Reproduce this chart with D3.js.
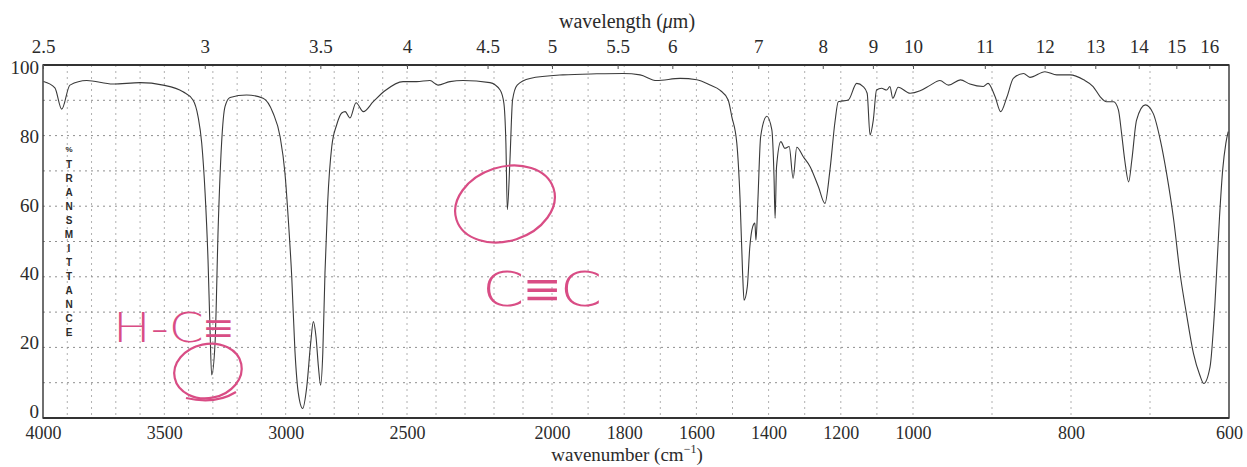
<!DOCTYPE html>
<meta charset="UTF-8">
<style>
body { margin: 0; background: #fff; }
svg text { font-family: "Liberation Serif", "Times New Roman", serif; fill: #2b2b2b; }
.grid line { stroke: #8f8f8f; stroke-dasharray: 2,4; stroke-width: 1; }
.grid line.v { stroke: #b0b0b0; }
.frame { fill: none; stroke: #333; stroke-width: 1.4; }
.spectrum { fill: none; stroke: #3a3a3a; stroke-width: 1.1; }
.ink { fill: none; stroke: #d94d85; stroke-width: 2.2; }
</style>
<body>
<div class="chart"></div>
<script src="https://d3js.org/d3.v7.min.js"></script>
<script>
// spectrum (cm-1, %T)
var wavenumbers = [
  3998, 3951, 3923, 3889, 3820, 3712, 3600, 3505, 3423, 3382,
  3361, 3346, 3332, 3320, 3312, 3305, 3291, 3278, 3264, 3250,
  3229, 3161, 3093, 3052, 3023, 3003, 2989, 2975, 2962, 2948,
  2930, 2913, 2897, 2886, 2875, 2865, 2856, 2847, 2838, 2827,
  2810, 2790, 2769, 2755, 2735, 2710, 2680, 2639, 2591, 2516,
  2467, 2421, 2393, 2352, 2307, 2214, 2179, 2166, 2159, 2154,
  2145, 2136, 2120, 2076, 1970, 1876, 1803, 1756, 1710, 1645,
  1599, 1562, 1535, 1512, 1502, 1488, 1479, 1472, 1468, 1459,
  1452, 1444, 1438, 1435, 1430, 1422, 1405, 1391, 1385, 1382,
  1378, 1366, 1355, 1343, 1332, 1322, 1304, 1285, 1262, 1244,
  1230, 1216, 1207, 1179, 1156, 1138, 1127, 1119, 1110, 1101,
  1087, 1073, 1064, 1056, 1041, 1008, 991, 978, 966, 955,
  940, 928, 911, 905, 896, 889, 881, 873, 860, 852,
  833, 818, 801, 784, 772, 763, 755, 746, 740, 736,
  732, 727, 723, 717, 706, 696, 687, 679, 670, 662,
  654, 645, 637, 632, 624, 618, 612, 608, 604, 601
];
var transmittance = [
  95.3, 93.5, 87.5, 94.3, 95.6, 94.6, 95.0, 94.3, 92.4, 90.1,
  85.4, 77.9, 63.7, 44.8, 25.8, 12.2, 21.2, 54.2, 77.9, 88.2,
  90.8, 91.5, 90.6, 86.4, 79.7, 69.4, 56.1, 40.0, 19.3, 7.1,
  2.7, 8.9, 21.2, 27.3, 23.0, 14.5, 9.3, 18.4, 41.1, 60.9,
  76.9, 83.0, 86.4, 86.8, 85.0, 89.3, 86.8, 89.6, 92.7, 95.3,
  95.3, 95.6, 94.3, 95.3, 95.6, 95.0, 92.9, 89.2, 77.9, 59.0,
  73.1, 90.1, 94.3, 96.2, 97.2, 97.5, 97.6, 97.2, 95.6, 96.2,
  95.8, 94.3, 92.9, 90.1, 85.4, 77.8, 61.8, 41.0, 33.4, 37.2,
  48.5, 54.2, 55.2, 50.4, 60.8, 79.7, 85.5, 81.6, 68.4, 56.6,
  71.2, 78.3, 76.4, 76.9, 67.9, 76.7, 74.0, 71.2, 65.5, 60.8,
  70.3, 84.0, 89.6, 90.1, 94.8, 93.9, 92.0, 80.2, 84.4, 92.9,
  93.4, 92.9, 93.9, 90.6, 93.7, 92.0, 92.7, 94.3, 95.6, 94.3,
  95.8, 94.6, 93.9, 94.8, 91.0, 86.8, 91.0, 96.2, 97.6, 96.5,
  98.1, 97.2, 97.2, 95.8, 93.9, 91.0, 89.6, 89.6, 87.3, 80.7,
  73.1, 66.9, 73.1, 84.4, 88.7, 86.3, 78.8, 69.3, 56.1, 41.0,
  29.7, 18.3, 12.2, 9.8, 14.5, 31.5, 57.0, 70.3, 77.8, 81.1
];
var wnTicks = [4000, 3500, 3000, 2500, 2000, 1800, 1600, 1400, 1200, 1000, 800, 600];
var umTicks = [2.5, 3, 3.5, 4, 4.5, 5, 5.5, 6, 7, 8, 9, 10, 11, 12, 13, 14, 15, 16];
var pctTicks = [0, 20, 40, 60, 80, 100];
var yLabel = "%TRANSMITTANCE";

var width = 1247, height = 467;
var plotL = 43, plotR = 1229, plotT = 65, plotB = 418;

// chart paper changes scale at 2500, 2000 and 1000 cm-1
var x = d3.scaleLinear()
    .domain([4000, 2500, 2000, 1000, 600])
    .range([plotL, 407, 552, 913, plotR]);
var y = d3.scaleLinear().domain([0, 100]).range([plotB, plotT]);

var svg = d3.select(".chart").append("svg")
    .attr("width", width)
    .attr("height", height);

// dotted grid
var grid = svg.append("g").attr("class", "grid");
grid.selectAll(".v").data(d3.range(3900, 600, -100)).enter().append("line")
    .attr("class", "v")
    .attr("x1", function(d) { return x(d); }).attr("x2", function(d) { return x(d); })
    .attr("y1", plotT).attr("y2", plotB);
grid.selectAll(".h").data(d3.range(10, 100, 10)).enter().append("line")
    .attr("class", "h")
    .attr("x1", plotL).attr("x2", plotR)
    .attr("y1", function(d) { return y(d); }).attr("y2", function(d) { return y(d); });

svg.append("rect").attr("class", "frame")
    .attr("x", plotL).attr("y", plotT)
    .attr("width", plotR - plotL).attr("height", plotB - plotT);
svg.append("line").attr("x1", plotL).attr("x2", plotR).attr("y1", plotT).attr("y2", plotT)
    .attr("stroke", "#333").attr("stroke-width", 2.2);
svg.append("line").attr("x1", plotL).attr("x2", plotR).attr("y1", plotB).attr("y2", plotB)
    .attr("stroke", "#333").attr("stroke-width", 2);

// axes
var xAxis = svg.append("g").attr("transform", "translate(0," + plotB + ")")
    .call(d3.axisBottom(x).tickValues(wnTicks).tickSize(0).tickPadding(8).tickFormat(d3.format("d")));
var topAxis = svg.append("g").attr("transform", "translate(0," + plotT + ")")
    .call(d3.axisTop(x)
      .tickValues(umTicks.map(function(l) { return 1e4 / l; }))
      .tickSizeInner(-4).tickSizeOuter(0).tickPadding(12)
      .tickFormat(function(d, i) { return umTicks[i]; }));
var yAxis = svg.append("g").attr("transform", "translate(" + plotL + ",0)")
    .call(d3.axisLeft(y).tickValues(pctTicks).tickSize(0).tickPadding(4));

[xAxis, topAxis, yAxis].forEach(function(a) {
  a.select(".domain").remove();
  a.selectAll("text").attr("fill", "#2b2b2b").style("font-size", "18px")
    .style("font-family", "'Liberation Serif', serif");
  a.selectAll("line").attr("stroke", "#555");
});
topAxis.selectAll("text").style("font-size", "19px");
// the printed % labels sit a little above their lines toward the bottom
yAxis.selectAll(".tick text")
    .attr("dy", "0.45em")
    .attr("y", function(d) { return -(1 - d / 100) * 9; })
    .style("font-size", "19px");

svg.append("text").attr("x", 627).attr("y", 28).attr("text-anchor", "middle")
    .style("font-size", "20px")
    .html("wavelength (<tspan font-style='italic'>μ</tspan>m)");
svg.append("text").attr("x", 627).attr("y", 461).attr("text-anchor", "middle")
    .style("font-size", "19px")
    .html("wavenumber (cm<tspan dy='-8' font-size='12px'>−1</tspan><tspan dy='8'>)</tspan>");

svg.append("g").selectAll("text").data(yLabel.split("")).enter().append("text")
    .attr("x", 69).attr("y", function(d, i) { return 152 + i * 14 + (i > 0 ? 2 : 0); })
    .attr("text-anchor", "middle")
    .style("font-family", "'Liberation Sans', sans-serif")
    .style("font-weight", "bold")
    .style("font-size", function(d, i) { return i === 0 ? "8px" : "10px"; })
    .text(function(d) { return d; });

// spectrum
var line = d3.line()
    .x(function(d, i) { return x(wavenumbers[i]); })
    .y(function(d) { return y(d); })
    .curve(d3.curveMonotoneX);
svg.append("path").attr("class", "spectrum").attr("d", line(transmittance));

// handwritten notes
var ink = svg.append("g");
ink.append("text").attr("x", 113).attr("y", 342)
    .attr("textLength", 120).attr("lengthAdjust", "spacingAndGlyphs")
    .style("font-family", "'DejaVu Sans', sans-serif").style("font-size", "40px")
    .style("font-weight", "200").style("fill", "#d94d85")
    .text("H-C≡");
ink.append("ellipse").attr("class", "ink")
    .attr("cx", 0).attr("cy", 0).attr("rx", 34).attr("ry", 27)
    .attr("transform", "translate(208,371) rotate(-12)");
ink.append("path").attr("class", "ink").attr("stroke-width", 1.6)
    .attr("d", "M186,398 Q215,405 236,392");
ink.append("ellipse").attr("class", "ink")
    .attr("cx", 0).attr("cy", 0).attr("rx", 51).attr("ry", 37)
    .attr("transform", "translate(505,204) rotate(-18)");
ink.append("text").attr("x", 482).attr("y", 306)
    .attr("textLength", 120).attr("lengthAdjust", "spacingAndGlyphs")
    .style("font-family", "'DejaVu Sans', sans-serif").style("font-size", "48px")
    .style("font-weight", "200").style("fill", "#d94d85")
    .text("C≡C");
</script>
</body>
